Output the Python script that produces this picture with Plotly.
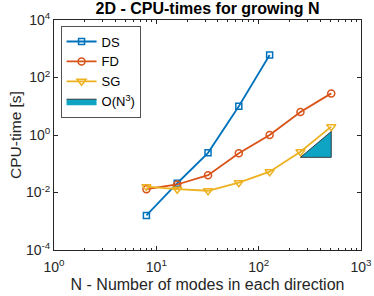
import plotly.graph_objects as go

N = [8, 16, 32, 64, 128, 256, 512]
ds_N = [8, 16, 32, 64, 128]
ds_t = [0.0016, 0.021, 0.24, 10.0, 610.0]
fd_t = [0.013, 0.019, 0.04, 0.23, 1.0, 6.3, 28.0]
sg_t = [0.016, 0.013, 0.0115, 0.022, 0.053, 0.26, 1.95]
tri_N = [256, 512, 512, 256]
tri_t = [0.167, 0.167, 1.33, 0.167]

xtick_vals = [1, 10, 100, 1000]
xtick_text = ["10<sup>0</sup>", "10<sup>1</sup>", "10<sup>2</sup>", "10<sup>3</sup>"]
ytick_vals = [1e-4, 1e-2, 1, 1e2, 1e4]
ytick_text = ["10<sup>-4</sup>", "10<sup>-2</sup>", "10<sup>0</sup>", "10<sup>2</sup>", "10<sup>4</sup>"]

FONT = "Liberation Sans, Arial, sans-serif"

fig = go.Figure()
fig.add_trace(go.Scatter(x=ds_N, y=ds_t, name="DS", mode="lines+markers",
                         line=dict(color="#0072BD", width=1.8),
                         marker=dict(symbol="square-open", size=6, color="#0072BD", line=dict(width=1.5))))
fig.add_trace(go.Scatter(x=N, y=fd_t, name="FD", mode="lines+markers",
                         line=dict(color="#D95319", width=1.8),
                         marker=dict(symbol="circle-open", size=7, color="#D95319", line=dict(width=1.5))))
fig.add_trace(go.Scatter(x=N, y=sg_t, name="SG", mode="lines+markers",
                         line=dict(color="#EDB120", width=1.8),
                         marker=dict(symbol="triangle-down-open", size=8, color="#EDB120", line=dict(width=1.5))))
fig.add_trace(go.Scatter(x=tri_N, y=tri_t, name="O(N<sup>3</sup>)", mode="lines",
                         fill="toself", fillcolor="#0FA3C4",
                         line=dict(color="#1a1a1a", width=0.8)))

fig.update_layout(
    width=374, height=296,
    margin=dict(l=54, r=13, t=20, b=46),
    paper_bgcolor="white", plot_bgcolor="white",
    font=dict(family=FONT, size=14, color="#262626"),
    title=dict(text="<b>2D - CPU-times for growing N</b>", x=0.555, xanchor="center",
               y=0.992, yanchor="top", font=dict(size=16, color="black")),
    showlegend=True,
    legend=dict(x=0.022, y=0.975, xanchor="left", yanchor="top",
                bgcolor="white", bordercolor="#262626", borderwidth=0.8,
                font=dict(size=13, color="black"), tracegroupgap=0,
                itemwidth=30),
)
fig.update_xaxes(type="log", range=[0, 3], tickvals=xtick_vals, ticktext=xtick_text,
                 ticks="inside", ticklen=4, tickcolor="#262626", automargin=False,
                 showline=True, linecolor="#262626", linewidth=1, mirror="ticks",
                 showgrid=False, zeroline=False,
                 tickfont=dict(size=14), ticklabelstandoff=4,
                 minor=dict(ticks="inside", ticklen=2, tickcolor="#262626", dtick="D1", showgrid=False),
                 title=dict(text="N - Number of modes in each direction", standoff=5,
                            font=dict(size=16)))
fig.update_yaxes(type="log", range=[-4, 4], tickvals=ytick_vals, ticktext=ytick_text,
                 ticks="inside", ticklen=4, tickcolor="#262626", automargin=False,
                 showline=True, linecolor="#262626", linewidth=1, mirror="ticks",
                 showgrid=False, zeroline=False,
                 tickfont=dict(size=14),
                 title=dict(text="CPU-time [s]", standoff=0, font=dict(size=15.5)))

fig.write_html("out.html", config={"displayModeBar": False},
               post_script="document.body.style.margin='0';document.body.style.padding='0';")
